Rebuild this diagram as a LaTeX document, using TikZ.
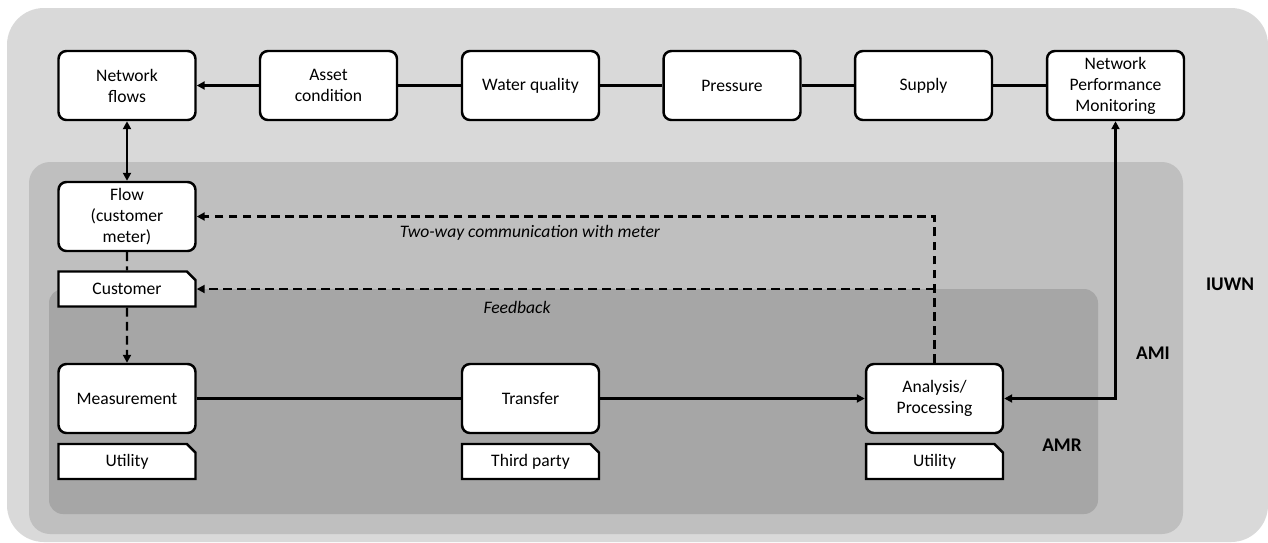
\documentclass[tikz,border=0pt]{standalone}
\usepackage{fontspec}
\setmainfont{Carlito}
\usetikzlibrary{shapes.misc,arrows.meta}
\definecolor{iuwngrey}{HTML}{D9D9D9}
\definecolor{amigrey}{HTML}{BFBFBF}
\definecolor{amrgrey}{HTML}{A6A6A6}

\begin{document}
\begin{tikzpicture}[x=0.02cm,y=-0.02cm]
\tikzstyle{every node}+=[font=\fontsize{10}{12}\selectfont]
\tikzstyle{stage}=[draw=black, fill=white, line width=1.4pt, rounded corners=4.5pt, minimum width=2.74cm, minimum height=1.38cm, align=center, inner sep=1pt]
\tikzstyle{tagbox}=[draw=black, fill=white, line width=1.4pt, chamfered rectangle, chamfered rectangle corners=north east, chamfered rectangle xsep=0.06cm, minimum width=2.74cm, minimum height=0.7cm, inner sep=0pt]
\tikzstyle{region}=[font=\fontsize{11}{13}\selectfont\bfseries]
\tikzstyle{link}=[black, line width=1.3pt]
\tikzstyle{dashlink}=[black, line width=1.3pt, dash pattern=on 5pt off 3pt]
\tikzstyle{tip}=[-{Triangle[length=4.5pt,width=4.5pt]}]
\tikzstyle{tips}=[{Triangle[length=4.5pt,width=4.5pt]}-{Triangle[length=4.5pt,width=4.5pt]}]
\useasboundingbox (0,0) rectangle (1268,542);
\fill [iuwngrey, rounded corners=21pt] (7,8) rectangle (1268,542);
\fill [amigrey, rounded corners=12pt] (29,162) rectangle (1183,534);
\fill [amrgrey, rounded corners=8pt] (49,289) rectangle (1098,514);
\node [region] (iuwnlabel) at (1230,284) {IUWN};
\node [region] (amilabel) at (1153,353) {AMI};
\node [region] (amrlabel) at (1062,445) {AMR};
\node [stage] (netflows) at (127,85.5) {Network\\flows};
\node [stage] (asset) at (328.5,85.5) {Asset\\condition};
\node [stage] (quality) at (530.5,85.5) {Water quality};
\node [stage] (pressure) at (732,85.5) {Pressure};
\node [stage] (supply) at (923.5,85.5) {Supply};
\node [stage] (npm) at (1115.5,85.5) {Network\\Performance\\Monitoring};
\node [stage] (flow) at (127,216.5) {Flow\\(customer\\meter)};
\node [tagbox] (customer) at (127,289) {Customer};
\node [stage] (measure) at (127,398.5) {Measurement};
\node [tagbox] (utilitya) at (127,461.5) {Utility};
\node [stage] (transfer) at (530.5,398.5) {Transfer};
\node [tagbox] (thirdparty) at (530.5,461.5) {Third party};
\node [stage] (analysis) at (934.5,398.5) {Analysis/\\Processing};
\node [tagbox] (utilityb) at (934.5,461.5) {Utility};
\coordinate (feedbackturn) at (analysis.north |- customer.east);
\draw [link, tip] (asset) -- (netflows);
\draw [link] (quality) -- (asset);
\draw [link] (pressure) -- (quality);
\draw [link] (supply) -- (pressure);
\draw [link] (npm) -- (supply);
\draw [link, tips] (netflows) -- (flow);
\draw [dashlink] (flow) -- (customer);
\draw [dashlink, tip] (customer) -- (measure);
\draw [link] (measure) -- (transfer);
\draw [link, tip] (transfer) -- (analysis);
\draw [link, tips] (analysis.east) -| (npm.south);
\draw [dashlink, tip] (analysis.north) |- (flow.east);
\draw [dashlink, tip] (feedbackturn) -- (customer.east);
\node (twoway) at (530,233) {\itshape Two-way communication with meter};
\node (feedback) at (517,307) {\itshape Feedback};
\end{tikzpicture}
\end{document}
